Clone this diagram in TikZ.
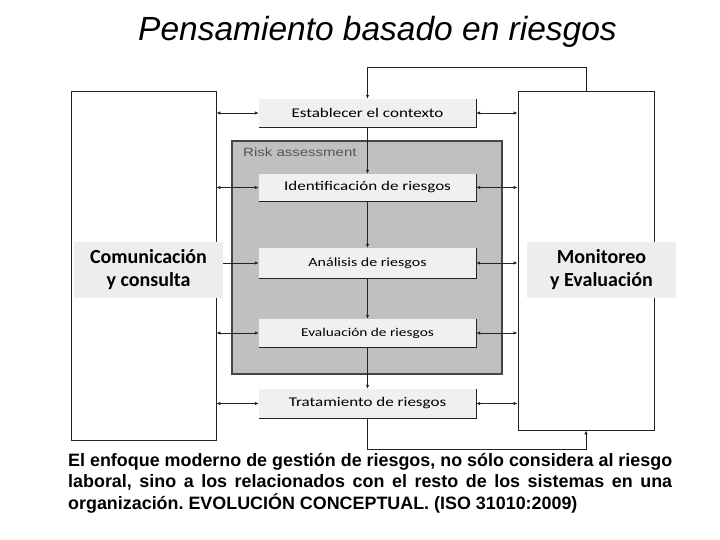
\documentclass[tikz,border=0pt]{standalone}
\usepackage{fontspec}
\setmainfont{Liberation Sans}
\newfontfamily\carlito{Carlito}
\newfontfamily\carlitowide[FakeStretch=1.28]{Carlito}
\newfontfamily\riskfont[FakeStretch=1.25]{Liberation Sans}
\usetikzlibrary{positioning}
\usetikzlibrary{calc}
\usetikzlibrary{arrows.meta}
\definecolor{lineg}{RGB}{35,35,35}
\definecolor{riskg}{RGB}{192,192,192}
\definecolor{stageg}{RGB}{240,240,240}
\definecolor{lblg}{RGB}{237,237,237}
\definecolor{riskt}{RGB}{85,85,85}
\definecolor{riskb}{RGB}{70,70,70}

\begin{document}
\begin{tikzpicture}[x=1pt, y=-1pt,
    bigbox/.style={draw=lineg, line width=0.9pt, fill=white, inner sep=0pt},
    stagebox/.style={fill=stageg, inner sep=0pt, minimum width=217pt,
        font=\carlitowide\fontsize{13.3}{15}\selectfont,
        append after command={\pgfextra{\draw[lineg, line width=0.8pt]
            (\tikzlastnode.south west) -- (\tikzlastnode.south east) -- (\tikzlastnode.north east);}}},
    sidelbl/.style={fill=lblg, inner sep=0pt, minimum width=149pt, minimum height=56pt,
        align=center, font=\carlito\bfseries\fontsize{20}{23}\selectfont},
    flow/.style={-{Latex[length=4pt,width=3.5pt]}, lineg, line width=0.8pt},
    both/.style={{Latex[length=4pt,width=3.5pt]}-{Latex[length=4pt,width=3.5pt]}, lineg, line width=0.8pt}]
    \useasboundingbox (0,0) rectangle (720,540);

    \node[anchor=base, font=\itshape\fontsize{33.5}{38}\selectfont] (title) at (377.5,41) {Pensamiento basado en riesgos};

    \node[bigbox, minimum width=145pt, minimum height=349pt] (comm) at (143.5,265.5) {};
    \node[bigbox, minimum width=136pt, minimum height=339pt] (monit) at (586,260.5) {};
    \node[draw=riskb, line width=1.3pt, fill=riskg, minimum width=270pt, minimum height=233pt] (risk) at (367,257.5) {};
    \node[riskt, anchor=base west, inner sep=0pt, font=\riskfont\fontsize{12}{14}\selectfont] (risklbl) at (243,157) {Risk assessment};

    \node[stagebox, minimum height=28pt] (ctx) at (367.5,113) {Establecer el contexto};
    \node[stagebox, minimum height=27pt] (ident) at (367.5,187.5) {Identificación de riesgos};
    \node[stagebox, minimum height=30pt, font=\carlitowide\fontsize{12.5}{14}\selectfont] (anal) at (367.5,263) {Análisis de riesgos};
    \node[stagebox, minimum height=28pt, font=\carlitowide\fontsize{12}{14}\selectfont] (evalr) at (367.5,333) {Evaluación de riesgos};
    \node[stagebox, minimum height=29pt] (trat) at (367.5,403.5) {Tratamiento de riesgos};

    \node[sidelbl] (commlbl) at (148.5,270) {Comunicación\\y consulta};
    \node[sidelbl] (monitlbl) at (601.5,270) {Monitoreo\\y Evaluación};

    \coordinate (topR) at (586,67);
    \coordinate (botR) at (586,449);

    \draw[flow] (topR |- monit.north) -- (topR) -| (ctx.north);
    \draw[flow] (ctx) -- (ident);
    \draw[flow] (ident) -- (anal);
    \draw[flow] (anal) -- (evalr);
    \draw[flow] (evalr) -- (trat);
    \draw[flow] (trat.south) |- (botR) -- (botR |- monit.south);

    \draw[both] (comm.east |- ctx) -- (ctx.west);
    \draw[both] (comm.east |- ident) -- (ident.west);
    \draw[flow] (commlbl.east |- anal) -- (anal.west);
    \draw[both] (comm.east |- evalr) -- (evalr.west);
    \draw[both] (comm.east |- trat) -- (trat.west);

    \draw[both] (ctx.east) -- (monit.west |- ctx);
    \draw[both] (ident.east) -- (monit.west |- ident);
    \draw[both] (anal.east) -- (monit.west |- anal);
    \draw[both] (evalr.east) -- (monit.west |- evalr);
    \draw[both] (trat.east) -- (monit.west |- trat);

    \node[anchor=north west, text width=604pt, align=justify, inner sep=0pt,
        font=\frenchspacing\bfseries\fontsize{17.9}{21.5}\selectfont] (note) at (68,453)
        {El enfoque moderno de gestión de riesgos, no sólo considera al riesgo\linebreak
        laboral, sino a los relacionados con el resto de los sistemas en una\linebreak
        organización. EVOLUCIÓN CONCEPTUAL. (ISO 31010:2009)};
\end{tikzpicture}
\end{document}
